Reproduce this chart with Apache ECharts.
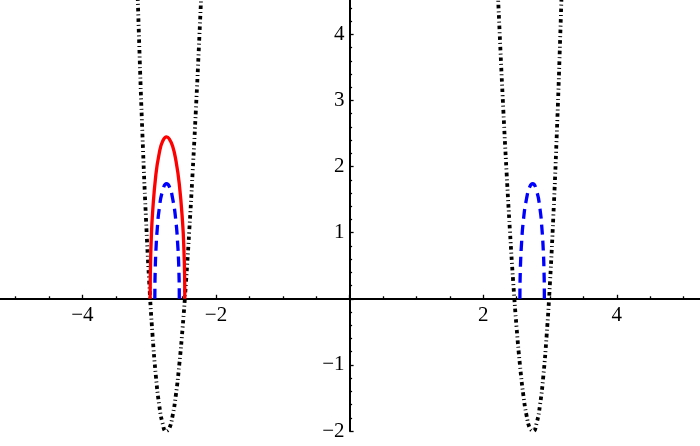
<!DOCTYPE html>
<html><head><meta charset="utf-8">
<script src="https://cdn.jsdelivr.net/npm/echarts@6/dist/echarts.min.js"></script>
<style>html,body{margin:0;padding:0;background:#fff}#c{width:700px;height:446px}</style>
</head><body><div id="c"></div><script>
// Black dot-dashed curve (two wells)
const blackLeft = [[-3.20,5.51],[-3.15,3.87],[-3.10,2.45],[-3.05,1.25],[-3.00,0.25],[-2.95,-0.55],[-2.90,-1.17],[-2.85,-1.61],[-2.80,-1.88],[-2.75,-2.00],[-2.70,-1.96],[-2.65,-1.77],[-2.60,-1.45],[-2.55,-1.00],[-2.50,-0.44],[-2.45,0.24],[-2.40,1.03],[-2.35,1.91],[-2.30,2.88],[-2.25,3.94],[-2.20,5.08]];
const blackRight = [[2.20,5.08],[2.25,3.94],[2.30,2.88],[2.35,1.91],[2.40,1.03],[2.45,0.24],[2.50,-0.44],[2.55,-1.00],[2.60,-1.45],[2.65,-1.77],[2.70,-1.96],[2.75,-2.00],[2.80,-1.88],[2.85,-1.61],[2.90,-1.17],[2.95,-0.55],[3.00,0.25],[3.05,1.25],[3.10,2.45],[3.15,3.87],[3.20,5.51]];
// Red solid arch (left well only)
const redLeft = [[-2.986,0],[-2.984,0.29],[-2.98,0.53],[-2.97,0.88],[-2.95,1.29],[-2.90,1.88],[-2.85,2.20],[-2.80,2.38],[-2.74,2.45],[-2.70,2.42],[-2.65,2.31],[-2.60,2.09],[-2.55,1.74],[-2.50,1.15],[-2.48,0.73],[-2.47,0.36],[-2.467,0]];
// Blue dashed arches
const blueLeft = [[-2.9155,0],[-2.915,0.13],[-2.91,0.43],[-2.90,0.72],[-2.88,1.05],[-2.85,1.36],[-2.80,1.63],[-2.74,1.74],[-2.70,1.70],[-2.65,1.52],[-2.60,1.17],[-2.57,0.77],[-2.56,0.56],[-2.555,0.41],[-2.55,0.12],[-2.5495,0]];
const blueRight = [[2.5495,0],[2.55,0.12],[2.555,0.41],[2.56,0.56],[2.57,0.77],[2.60,1.17],[2.65,1.52],[2.70,1.70],[2.74,1.74],[2.80,1.63],[2.85,1.36],[2.88,1.05],[2.90,0.72],[2.91,0.43],[2.915,0.13],[2.9155,0]];
// Tick labels
const xTickLabels = [-4, -2, 2, 4];
const yTickLabels = [-2, -1, 1, 2, 3, 4];

const fmt = v => (v < 0 ? '\u2212' + Math.abs(v) : String(v));
const font = {fontFamily: '"Liberation Serif", "Times New Roman", serif', fontSize: 21, color: '#000'};

const chart = echarts.init(document.getElementById('c'), null, {renderer: 'canvas'});
const mk = (data, color, type, width) => ({
  type: 'line', data, symbol: 'none', showSymbol: false, smooth: true, clip: false,
  lineStyle: {color, type, width, cap: 'butt'}, silent: true
});
// grid spans x in [-6, 6] and y in [-2, 5]; axes moved onto the origin with offsets
const gridL = -51.2, gridR = -50.4, gridT = -31.8, gridB = 15;
const W = 700, H = 446;
const pxPerX = (W - gridL - gridR) / 12;
const pxPerY = (H - gridT - gridB) / 7;
chart.setOption({
  animation: false,
  backgroundColor: '#fff',
  grid: {left: gridL, right: gridR, top: gridT, bottom: gridB, containLabel: false, outerBoundsMode: 'none'},
  xAxis: {
    type: 'value', min: -6, max: 6, interval: 2, position: 'bottom',
    offset: -2 * pxPerY,
    axisLine: {onZero: false, lineStyle: {color: '#000', width: 2}},
    axisTick: {inside: true, length: 4, lineStyle: {color: '#000', width: 1.3}},
    minorTick: {show: true, splitNumber: 4, length: 2.5, lineStyle: {color: '#000', width: 1.3}},
    splitLine: {show: false},
    axisLabel: Object.assign({margin: 6, formatter: v => xTickLabels.includes(v) ? fmt(v) : ''}, font)
  },
  yAxis: {
    type: 'value', min: -2, max: 5, interval: 1, position: 'left',
    offset: -6 * pxPerX,
    axisLine: {onZero: false, lineStyle: {color: '#000', width: 2}},
    axisTick: {inside: true, length: 4, lineStyle: {color: '#000', width: 1.3}},
    minorTick: {show: true, splitNumber: 5, length: 2.5, lineStyle: {color: '#000', width: 1.3}},
    splitLine: {show: false},
    axisLabel: Object.assign({margin: 5, formatter: v => yTickLabels.includes(v) ? fmt(v) : ''}, font)
  },
  series: [
    mk(blackLeft, '#000', [3.5, 3, 1, 3], 3.8),
    mk(blackRight, '#000', [3.5, 3, 1, 3], 3.8),
    mk(redLeft, '#ff0000', 'solid', 3.3),
    mk(blueLeft, '#0000ff', [10, 6], 3.3),
    mk(blueRight, '#0000ff', [10, 6], 3.3)
  ]
});
</script></body></html>
